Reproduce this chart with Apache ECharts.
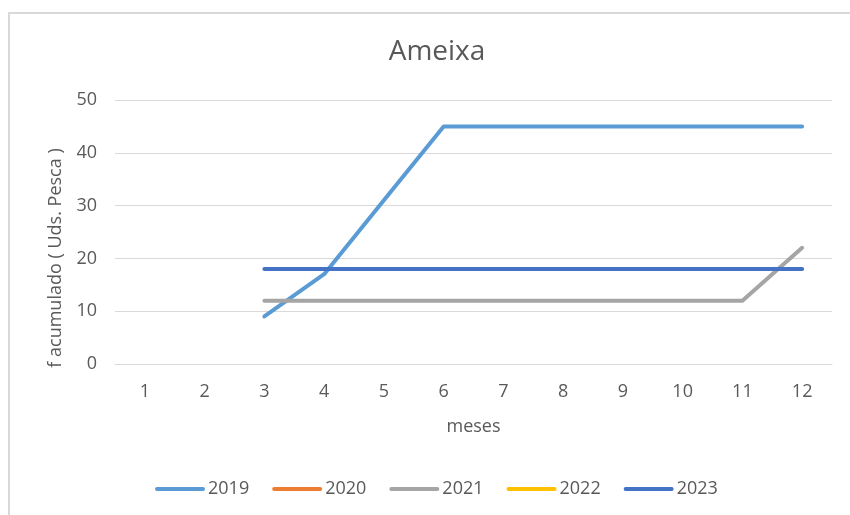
<!DOCTYPE html>
<html>
<head>
<meta charset="utf-8">
<script src="https://cdn.jsdelivr.net/npm/echarts@6/dist/echarts.min.js"></script>
<style>html,body{margin:0;padding:0;background:#fff}#c{width:850px;height:515px}</style>
</head>
<body>
<div id="c"></div>
<script>
const months = ['1','2','3','4','5','6','7','8','9','10','11','12'];
const s2019 = [null,null,9,17,31,45,45,45,45,45,45,45];
const s2020 = [null,null,null,null,null,null,null,null,null,null,null,null];
const s2021 = [null,null,12,12,12,12,12,12,12,12,12,22];
const s2022 = [null,null,null,null,null,null,null,null,null,null,null,null];
const s2023 = [null,null,18,18,18,18,18,18,18,18,18,18];
const seriesNames = ['2019','2020','2021','2022','2023'];
const seriesData = [s2019,s2020,s2021,s2022,s2023];
const colors = ['#5b9bd5','#ed7d31','#a5a5a5','#ffc000','#4472c4'];
const yTicks = {min:0,max:50,interval:10};

const FONT = 'Open Sans';
const chart = echarts.init(document.getElementById('c'), null, {renderer:'canvas'});
chart.setOption({
  animation:false,
  color:colors,
  graphic:[{type:'rect',shape:{x:9,y:13,width:900,height:600},style:{fill:'none',stroke:'#d9d9d9',lineWidth:2},silent:true}],
  title:{text:'Ameixa',left:432,top:33,textAlign:'center',textStyle:{fontFamily:FONT,fontSize:28,fontWeight:'normal',color:'#595959'}},
  legend:{
    bottom:12,left:150,itemWidth:50,itemHeight:4,itemGap:23,
    icon:'path://M2,0 L48,0 A2,2 0 0 1 48,4 L2,4 A2,2 0 0 1 2,0 Z',
    textStyle:{fontFamily:FONT,fontSize:18,color:'#595959',padding:[0,0,0,-2]},
    data:seriesNames
  },
  grid:{left:115,right:18,top:100,bottom:151},
  xAxis:{
    type:'category',data:months,boundaryGap:true,
    name:'meses',nameLocation:'middle',nameGap:54,
    nameTextStyle:{fontFamily:FONT,fontSize:18,color:'#595959'},
    axisLine:{show:true,lineStyle:{color:'#d9d9d9',width:1}},
    axisTick:{show:false},
    axisLabel:{fontFamily:FONT,fontSize:18,color:'#595959',margin:19}
  },
  yAxis:{
    type:'value',min:yTicks.min,max:yTicks.max,interval:yTicks.interval,
    name:'f acumulado ( Uds. Pesca )',nameLocation:'middle',nameGap:50,
    nameTextStyle:{fontFamily:FONT,fontSize:18,color:'#595959',padding:[0,52,0,0]},
    axisLine:{show:false},axisTick:{show:false},
    axisLabel:{fontFamily:FONT,fontSize:18,color:'#595959',margin:18},
    splitLine:{lineStyle:{color:'#d9d9d9',width:1}}
  },
  series:seriesNames.map((n,i)=>({
    name:n,type:'line',data:seriesData[i],symbol:'none',connectNulls:false,
    lineStyle:{width:4,color:colors[i],cap:'round',join:'round'},
    itemStyle:{color:colors[i]}
  }))
});
</script>
</body>
</html>
